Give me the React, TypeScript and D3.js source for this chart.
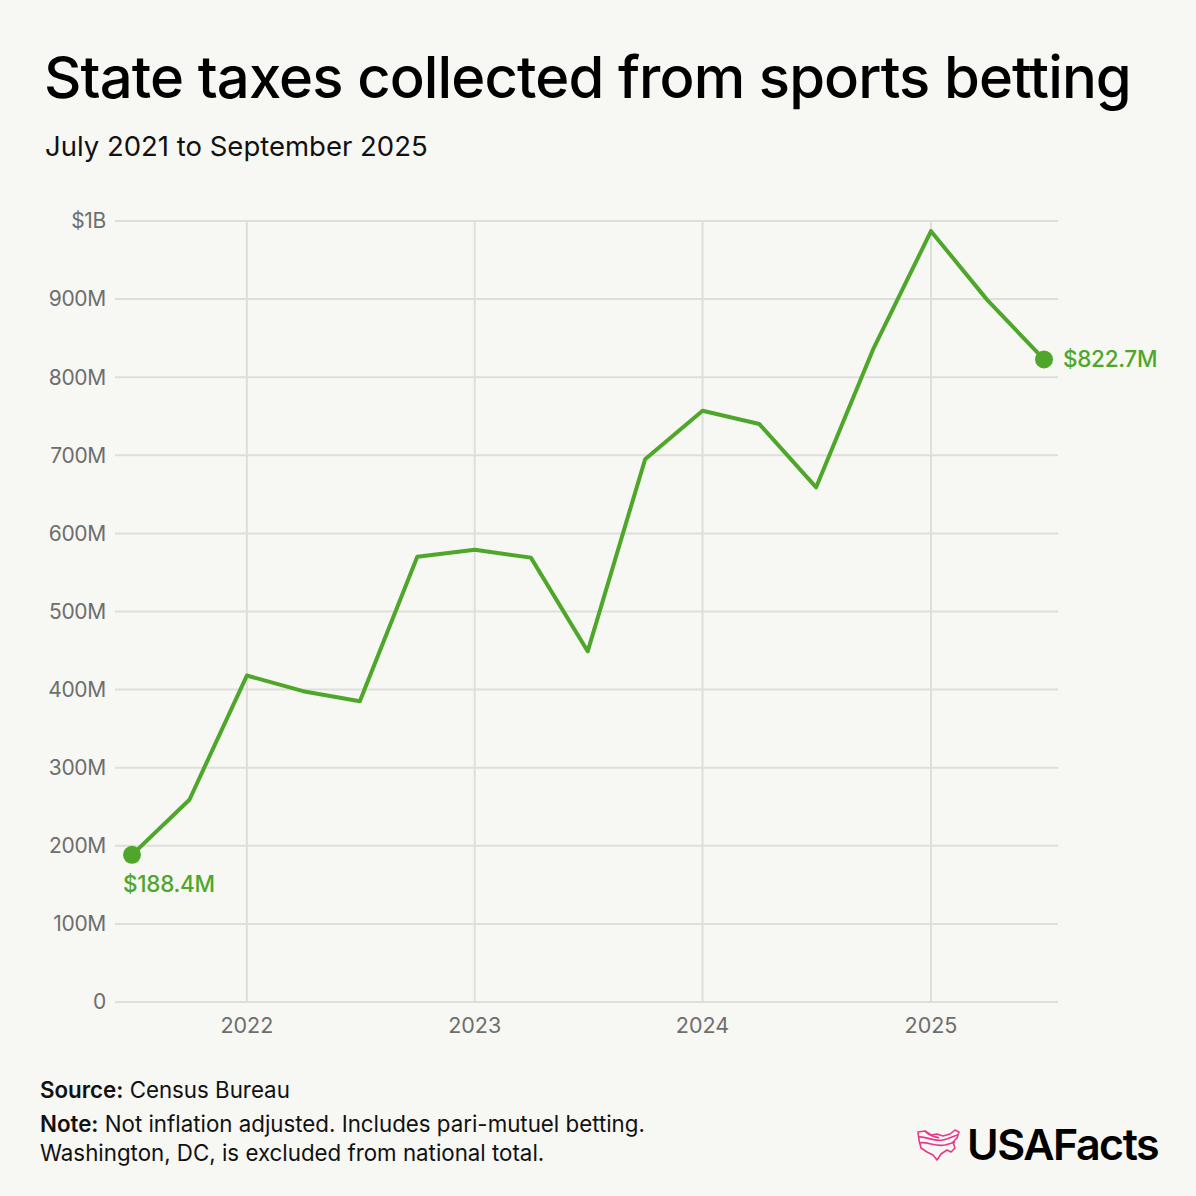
import React, { useEffect, useRef } from 'react';
import * as d3 from 'd3';

// quarterly state tax revenue from sports betting, $M
const quarters = [
  '2021-07', '2021-10', '2022-01', '2022-04', '2022-07', '2022-10',
  '2023-01', '2023-04', '2023-07', '2023-10', '2024-01', '2024-04',
  '2024-07', '2024-10', '2025-01', '2025-04', '2025-07',
];
const taxes = [188.4, 259, 418, 398, 385, 570, 579, 569, 449, 695, 757, 740, 659, 837, 987, 899, 822.7];
const yTicks = [0, 100, 200, 300, 400, 500, 600, 700, 800, 900, 1000];
const yearTicks = ['2022', '2023', '2024', '2025'];

const FONT = 'Inter, "Liberation Sans", sans-serif';
const GREEN = '#4ea72a';

export default function App() {
  const ref = useRef<SVGSVGElement>(null);

  useEffect(() => {
    const svg = d3.select(ref.current);
    svg.selectAll('*').remove();
    const parse = d3.timeParse('%Y-%m');
    const dates = quarters.map(q => parse(q) as Date);

    const left = 115, right = 1058, top = 221, bottom = 1002;

    svg.append('rect').attr('width', 1196).attr('height', 1196).attr('fill', '#f7f7f3');

    svg.append('text').attr('x', 44).attr('y', 98)
      .attr('font-family', FONT).attr('font-size', 58).attr('font-weight', 500)
      .attr('fill', '#000').attr('letter-spacing', -0.9)
      .text('State taxes collected from sports betting');
    svg.append('text').attr('x', 45).attr('y', 156)
      .attr('font-family', FONT).attr('font-size', 27.5).attr('fill', '#111')
      .text('July 2021 to September 2025');

    const x = d3.scaleTime()
      .domain([dates[0], dates[dates.length - 1]])
      .range([132, 1044]);
    const y = d3.scaleLinear().domain([0, 1000]).range([bottom, top]);

    // grid
    svg.append('g').selectAll('line').data(yearTicks).enter().append('line')
      .attr('x1', d => x(parse(d + '-01') as Date)).attr('x2', d => x(parse(d + '-01') as Date))
      .attr('y1', top).attr('y2', bottom)
      .attr('stroke', '#dededa').attr('stroke-width', 2);
    svg.append('g').selectAll('line').data(yTicks).enter().append('line')
      .attr('x1', left).attr('x2', right)
      .attr('y1', d => y(d)).attr('y2', d => y(d))
      .attr('stroke', '#dededa').attr('stroke-width', 2);

    svg.append('g').selectAll('text').data(yTicks).enter().append('text')
      .attr('x', 106).attr('y', d => y(d)).attr('dy', '0.35em')
      .attr('text-anchor', 'end')
      .attr('font-family', FONT).attr('font-size', 21).attr('fill', '#6e6e6e')
      .attr('letter-spacing', -0.3)
      .text(d => d === 1000 ? '$1B' : d === 0 ? '0' : d + 'M');

    svg.append('g').selectAll('text').data(yearTicks).enter().append('text')
      .attr('x', d => x(parse(d + '-01') as Date)).attr('y', 1033)
      .attr('text-anchor', 'middle')
      .attr('font-family', FONT).attr('font-size', 21.5).attr('fill', '#6e6e6e')
      .text(d => d);

    const line = d3.line<number>()
      .x((d, i) => x(dates[i]))
      .y(d => y(d));
    svg.append('path').datum(taxes)
      .attr('d', line)
      .attr('fill', 'none').attr('stroke', GREEN).attr('stroke-width', 4)
      .attr('stroke-linejoin', 'round');

    const last = taxes.length - 1;
    [0, last].forEach(i => {
      svg.append('circle').attr('cx', x(dates[i])).attr('cy', y(taxes[i]))
        .attr('r', 9).attr('fill', GREEN);
    });
    svg.append('text').attr('x', x(dates[0]) - 9).attr('y', y(taxes[0]) + 37)
      .attr('font-family', FONT).attr('font-size', 22.5).attr('font-weight', 500)
      .attr('fill', GREEN).attr('letter-spacing', -0.3)
      .text('$' + taxes[0] + 'M');
    svg.append('text').attr('x', x(dates[last]) + 19).attr('y', y(taxes[last])).attr('dy', '0.35em')
      .attr('font-family', FONT).attr('font-size', 22.5).attr('font-weight', 500)
      .attr('fill', GREEN).attr('letter-spacing', -0.3)
      .text('$' + taxes[last] + 'M');

    // footer
    const foot = svg.append('g').attr('font-family', FONT).attr('font-size', 22.3).attr('fill', '#111');
    const s = foot.append('text').attr('x', 40).attr('y', 1098);
    s.append('tspan').attr('font-weight', 600).text('Source:');
    s.append('tspan').text(' Census Bureau');
    const n = foot.append('text').attr('x', 40).attr('y', 1132);
    n.append('tspan').attr('font-weight', 600).text('Note:');
    n.append('tspan').text(' Not inflation adjusted. Includes pari-mutuel betting.');
    foot.append('text').attr('x', 40).attr('y', 1161)
      .text('Washington, DC, is excluded from national total.');

    // logo
    const logo = svg.append('g').attr('transform', 'translate(917,1128)')
      .attr('fill', 'none').attr('stroke', '#e8388a').attr('stroke-width', 1.6)
      .attr('stroke-linejoin', 'round');
    logo.append('path').attr('d',
      'M1,4 L8,3 L14,7 L20,6 L26,8 L33,6 L38,2 L42,4 L40,10 L36,14 L38,20 L34,24 L30,22 L24,26 L20,32 L16,27 L10,24 L4,20 L2,12 Z');
    logo.append('path').attr('d', 'M1,9 C10,8 16,14 26,12 C32,11 36,8 41,7');
    logo.append('path').attr('d', 'M2,15 C10,13 18,19 28,17 C32,16 35,15 38,14');
    logo.append('path').attr('d', 'M8,3 C12,8 16,8 22,10');
    svg.append('text').attr('x', 967).attr('y', 1160)
      .attr('font-family', FONT).attr('font-size', 43).attr('font-weight', 600)
      .attr('fill', '#000').attr('letter-spacing', -1.5)
      .text('USAFacts');
  }, []);

  return <svg ref={ref} width={1196} height={1196} style={{ display: 'block', position: 'absolute', left: 0, top: 0 }} />;
}
